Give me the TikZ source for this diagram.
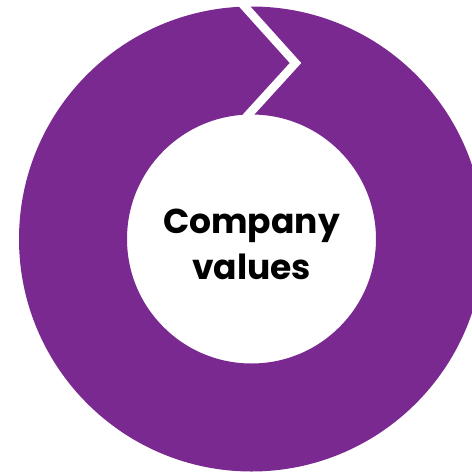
\documentclass[tikz,border=0pt]{standalone}
\usepackage{fontspec}
\setmainfont{Poppins}
\definecolor{ringpurple}{HTML}{7A2991}
\begin{document}
\begin{tikzpicture}[x=1pt,y=-1pt]
\useasboundingbox (0,0) rectangle (472,472);
\begin{scope}
\clip (0,0) rectangle (472,472);
\fill[ringpurple, even odd rule] (251.5,239) circle[radius=232.5] (251.5,239) circle[radius=124.5];
\draw[white, line width=8.5pt, miter limit=10] (237,-2) -- (295.5,63) -- (239,125);
\end{scope}
\node[font=\bfseries\fontsize{34.5}{46}\selectfont, align=center, inner sep=0pt] (label) at (251.5,244) {Company\\values};
\end{tikzpicture}
\end{document}
